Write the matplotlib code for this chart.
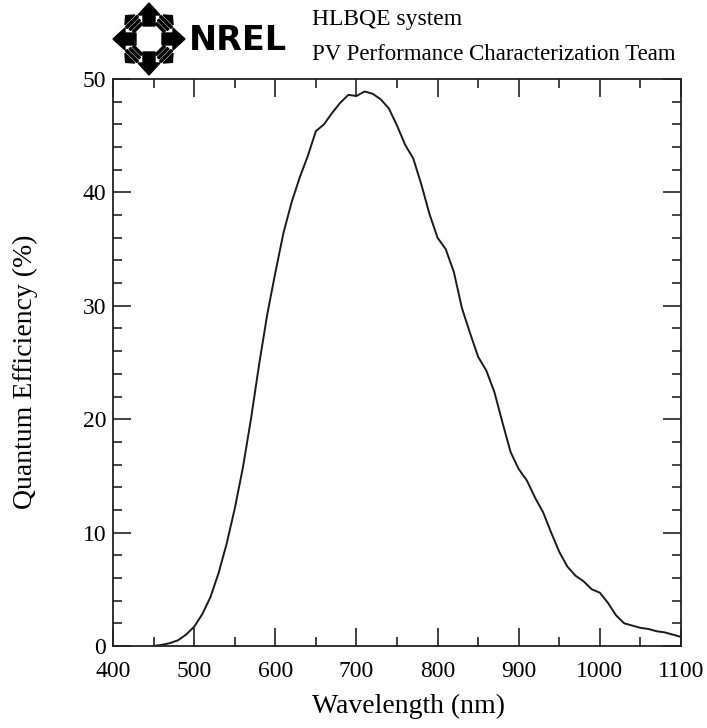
import matplotlib
matplotlib.use("Agg")
import matplotlib.pyplot as plt
from matplotlib.patches import Polygon
from matplotlib.ticker import MultipleLocator
import numpy as np

# Spectral quantum efficiency of the device
wavelength_nm = [450, 460, 470, 480, 490, 500, 510, 520, 530, 540, 550, 560,
                 570, 580, 590, 600, 610, 620, 630, 640, 650, 660, 670, 680,
                 690, 700, 710, 720, 730, 740, 750, 760, 770, 780, 790, 800,
                 810, 820, 830, 840, 850, 860, 870, 880, 890, 900, 910, 920,
                 930, 940, 950, 960, 970, 980, 990, 1000, 1010, 1020, 1030,
                 1040, 1050, 1060, 1070, 1080, 1090, 1100]
qe_percent = [0.0, 0.1, 0.25, 0.5, 1.0, 1.7, 2.8, 4.3, 6.4, 9.0, 12.1, 15.7,
              20.0, 24.8, 29.2, 32.9, 36.4, 39.1, 41.3, 43.2, 45.4, 46.0, 47.0,
              47.9, 48.6, 48.5, 48.9, 48.7, 48.2, 47.4, 45.9, 44.2, 43.0, 40.7,
              38.1, 36.0, 35.0, 33.0, 29.8, 27.6, 25.5, 24.3, 22.4, 19.7, 17.1,
              15.6, 14.6, 13.1, 11.8, 10.0, 8.3, 7.0, 6.2, 5.7, 5.0, 4.7, 3.8,
              2.7, 2.0, 1.8, 1.6, 1.5, 1.3, 1.2, 1.0, 0.8]

x_ticks = [400, 500, 600, 700, 800, 900, 1000, 1100]
y_ticks = [0, 10, 20, 30, 40, 50]
x_label = "Wavelength (nm)"
y_label = "Quantum Efficiency (%)"
header_title = "HLBQE system"
header_team = "PV Performance Characterization Team"
logo_word = "NREL"

W, H = 707, 728
serif = ["Liberation Serif", "DejaVu Serif"]
plt.rcParams["font.family"] = serif

fig = plt.figure(figsize=(W / 100, H / 100), dpi=100)
fig.patch.set_facecolor("white")


def fx(px):
    return px / W


def fy(py):
    return 1 - py / H


# main plot area (pixel bounds)
left, right, bottom, top = 113, 681, 646, 79
ax = fig.add_axes([fx(left), fy(bottom), (right - left) / W, (bottom - top) / H])
ax.plot(wavelength_nm, qe_percent, color="#1a1a1a", lw=1.4)
ax.set_xlim(400, 1100)
ax.set_ylim(0, 50)
ax.set_xticks(x_ticks)
ax.set_yticks(y_ticks)
ax.xaxis.set_minor_locator(MultipleLocator(50))
ax.yaxis.set_minor_locator(MultipleLocator(2))
ax.tick_params(which="both", direction="in", top=True, right=True,
               width=1.2, color="#222222", labelsize=17)
ax.tick_params(axis="x", pad=11)
ax.tick_params(axis="y", pad=5)
ax.tick_params(which="major", length=13)
ax.tick_params(which="minor", length=6.5)
for s in ax.spines.values():
    s.set_linewidth(1.3)
    s.set_color("#222222")

# axis titles
fig.text(fx(408), fy(706), x_label, fontsize=20, ha="center", va="center")
fig.text(fx(25), fy(372), y_label, fontsize=20, ha="center", va="center",
         rotation=90)

# header text
fig.text(fx(312), fy(20), header_title, fontsize=17, va="center", ha="left")
fig.text(fx(312), fy(54), header_team, fontsize=16.5, va="center", ha="left")

# logo: ring of eight outward arrows
lax = fig.add_axes([fx(100), fy(80), 100 / W, 80 / H])
lax.set_xlim(100, 200)
lax.set_ylim(80, 0)
lax.axis("off")
cx, cy = 149, 39


def place(pts, ux, uy):
    px, py = -uy, ux
    return [(cx + a * ux + b * px, cy + a * uy + b * py) for a, b in pts]


for k in range(8):
    ang = np.deg2rad(k * 45)
    ux, uy = np.cos(ang), -np.sin(ang)
    if k % 2 == 0:
        # solid block with arrowhead
        r0, r1, r2, hw, aw = 13, 24, 36, 6, 11
        pts = [(r0, -hw), (r1, -hw), (r1, -aw), (r2, 0), (r1, aw), (r1, hw), (r0, hw)]
        lax.add_patch(Polygon(place(pts, ux, uy), closed=True, color="black"))
    else:
        # striped diagonal arrow
        for r, hw in [(15, 6), (19, 7), (23, 8)]:
            pts = [(r, -hw), (r + 2.2, -hw), (r + 2.2, hw), (r, hw)]
            lax.add_patch(Polygon(place(pts, ux, uy), closed=True, color="black"))
        pts = [(27, -7), (33, 0), (27, 7)]
        lax.add_patch(Polygon(place(pts, ux, uy), closed=True, color="black"))

fig.text(fx(189), fy(40), logo_word, fontsize=24, fontweight="black",
         family=["DejaVu Sans"], va="center", ha="left", color="black")

fig.savefig("out.png", dpi=100, facecolor="white")
